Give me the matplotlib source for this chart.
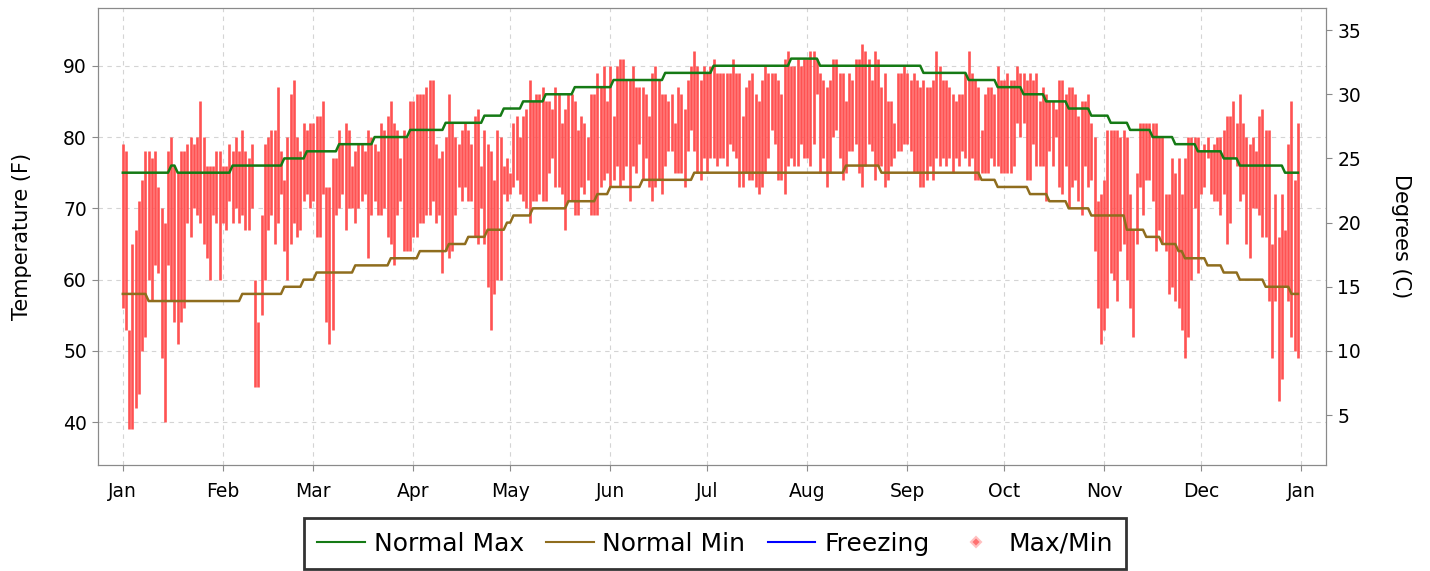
import numpy as np
import matplotlib
matplotlib.use("Agg")
import matplotlib.pyplot as plt
from matplotlib.lines import Line2D

jan_hi = [79, 78, 53, 65, 67, 71, 74, 78, 78, 77, 78, 73, 70, 68, 78, 80, 76, 75, 78, 78, 79, 80, 79, 80, 85, 80, 76, 76, 76, 78, 78]
jan_lo = [56, 53, 39, 39, 42, 44, 50, 52, 60, 57, 62, 61, 49, 40, 62, 57, 54, 51, 54, 56, 68, 66, 70, 69, 68, 65, 63, 60, 69, 68, 60]
feb_hi = [76, 76, 79, 78, 80, 78, 81, 78, 77, 79, 60, 54, 69, 79, 80, 81, 81, 87, 78, 74, 80, 86, 88, 80, 78, 82, 81, 82]
feb_lo = [68, 67, 71, 68, 70, 68, 69, 67, 67, 70, 45, 45, 55, 60, 67, 69, 65, 68, 72, 64, 60, 65, 68, 66, 67, 71, 72, 70]
mar_hi = [82, 83, 83, 85, 73, 73, 77, 77, 81, 79, 82, 81, 76, 78, 79, 79, 78, 81, 80, 79, 78, 82, 81, 83, 85, 82, 81, 77, 81, 80, 85]
mar_lo = [71, 66, 66, 72, 54, 51, 53, 69, 70, 72, 67, 70, 70, 68, 70, 71, 72, 63, 69, 71, 69, 69, 70, 66, 65, 62, 69, 71, 64, 64, 64]
apr_hi = [85, 86, 86, 86, 87, 88, 88, 79, 77, 78, 80, 86, 82, 80, 79, 81, 82, 81, 79, 83, 84, 76, 81, 79, 78, 74, 81, 80, 76, 77]
apr_lo = [66, 66, 68, 68, 69, 69, 71, 68, 69, 61, 64, 63, 64, 69, 73, 71, 73, 71, 71, 66, 65, 70, 65, 59, 53, 58, 60, 60, 72, 71]
may_hi = [75, 82, 83, 80, 83, 84, 88, 85, 86, 86, 87, 85, 85, 84, 87, 86, 82, 84, 86, 86, 85, 81, 83, 82, 80, 86, 86, 89, 87, 90, 85]
may_lo = [72, 73, 74, 72, 71, 70, 68, 71, 71, 72, 71, 71, 75, 77, 73, 73, 72, 67, 71, 71, 69, 69, 73, 72, 74, 69, 69, 69, 73, 74, 75]
jun_hi = [90, 83, 90, 91, 91, 88, 88, 90, 87, 87, 87, 86, 83, 89, 90, 88, 86, 86, 85, 86, 82, 87, 86, 84, 88, 90, 92, 90, 88, 90]
jun_lo = [73, 74, 76, 73, 74, 76, 71, 76, 75, 79, 74, 77, 73, 71, 73, 74, 72, 76, 78, 78, 75, 75, 75, 73, 78, 81, 78, 75, 74, 77]
jul_hi = [89, 90, 91, 89, 89, 89, 89, 89, 91, 89, 89, 83, 87, 88, 89, 86, 85, 88, 90, 89, 89, 89, 88, 86, 91, 92, 90, 90, 91, 90, 91]
jul_lo = [75, 77, 77, 76, 77, 77, 76, 79, 78, 77, 73, 73, 75, 74, 74, 73, 72, 73, 75, 77, 81, 79, 74, 74, 72, 76, 77, 76, 76, 79, 77]
aug_hi = [91, 92, 92, 91, 89, 88, 87, 88, 91, 91, 89, 89, 85, 89, 88, 91, 91, 93, 92, 91, 88, 92, 91, 87, 89, 85, 85, 82, 89, 89, 90]
aug_lo = [77, 76, 79, 86, 75, 77, 73, 75, 80, 81, 77, 74, 75, 78, 78, 79, 75, 73, 76, 79, 78, 74, 76, 76, 73, 74, 76, 77, 78, 78, 79]
sep_hi = [89, 88, 89, 88, 87, 88, 87, 87, 88, 92, 90, 88, 88, 87, 86, 85, 86, 86, 89, 92, 89, 88, 87, 81, 86, 87, 87, 86, 90, 88]
sep_lo = [79, 78, 75, 75, 73, 73, 74, 76, 74, 77, 76, 77, 76, 77, 75, 77, 76, 78, 77, 76, 77, 74, 74, 75, 75, 75, 77, 76, 76, 75]
oct_hi = [88, 89, 88, 88, 90, 89, 89, 88, 89, 88, 89, 85, 87, 86, 85, 85, 84, 88, 88, 86, 87, 87, 86, 83, 85, 85, 86, 82, 80, 71, 72]
oct_lo = [75, 75, 75, 76, 82, 80, 82, 74, 74, 79, 76, 76, 76, 71, 78, 76, 80, 73, 72, 76, 70, 73, 74, 71, 69, 76, 73, 74, 64, 56, 51]
nov_hi = [74, 81, 81, 81, 81, 80, 81, 80, 72, 67, 75, 82, 82, 82, 82, 82, 82, 80, 80, 72, 72, 77, 75, 77, 72, 77, 80, 80, 80, 80]
nov_lo = [53, 56, 61, 60, 57, 64, 65, 60, 56, 52, 65, 73, 69, 74, 74, 71, 64, 67, 65, 64, 58, 59, 57, 56, 53, 49, 52, 60, 70, 61]
dec_hi = [78, 79, 80, 78, 79, 80, 80, 81, 83, 83, 85, 82, 86, 82, 80, 79, 80, 78, 83, 84, 81, 81, 65, 72, 66, 72, 67, 79, 85, 74, 82]
dec_lo = [72, 73, 77, 72, 71, 71, 69, 72, 65, 68, 77, 76, 71, 72, 65, 63, 70, 70, 69, 66, 66, 57, 49, 57, 43, 46, 59, 57, 52, 50, 49]

# normal max / min as step breakpoints (day of year, value F)
nmax_days = [0, 15, 17, 34, 50, 57, 67, 78, 89, 100, 112, 118, 124, 131, 140, 152, 168, 183, 207, 216, 248, 262, 271, 279, 286, 293, 300, 306, 312, 319, 326, 333, 341, 346, 360]
nmax_vals = [75, 76, 75, 76, 77, 78, 79, 80, 81, 82, 83, 84, 85, 86, 87, 88, 89, 90, 91, 90, 89, 88, 87, 86, 85, 84, 83, 82, 81, 80, 79, 78, 77, 76, 75]
nmin_days = [0, 8, 37, 50, 56, 60, 72, 83, 92, 101, 107, 113, 119, 121, 127, 138, 147, 151, 161, 177, 224, 235, 266, 271, 281, 287, 293, 300, 311, 317, 322, 327, 329, 336, 341, 346, 354, 362]
nmin_vals = [58, 57, 58, 59, 60, 61, 62, 63, 64, 65, 66, 67, 68, 69, 70, 71, 72, 73, 74, 75, 76, 75, 74, 73, 72, 71, 70, 69, 67, 66, 65, 64, 63, 62, 61, 60, 59, 58]

month_labels = ["Jan", "Feb", "Mar", "Apr", "May", "Jun", "Jul", "Aug", "Sep", "Oct", "Nov", "Dec", "Jan"]
month_starts = [0, 31, 59, 90, 120, 151, 181, 212, 243, 273, 304, 334, 365]

hi = np.array(jan_hi + feb_hi + mar_hi + apr_hi + may_hi + jun_hi + jul_hi + aug_hi + sep_hi + oct_hi + nov_hi + dec_hi)
lo = np.array(jan_lo + feb_lo + mar_lo + apr_lo + may_lo + jun_lo + jul_lo + aug_lo + sep_lo + oct_lo + nov_lo + dec_lo)
days = np.arange(len(hi))

nmax = np.repeat(nmax_vals, np.diff(nmax_days + [365]))
nmin = np.repeat(nmin_vals, np.diff(nmin_days + [365]))

RED = "#ff5252"
GREEN = "#157a15"
BROWN = "#8f6d1e"

fig = plt.figure(figsize=(14.3, 5.71), dpi=100)
ax = fig.add_axes([0.0685, 0.1856, 0.8588, 0.8004])

ax.vlines(days, lo, hi, colors=RED, linewidth=1.9, zorder=2)
ax.plot(days, nmax, color=GREEN, linewidth=1.8, zorder=3)
ax.plot(days, nmin, color=BROWN, linewidth=1.8, zorder=3)
ax.axhline(32, color="blue", linewidth=1.5)

ax.set_xlim(-7.7, 372.7)
ax.set_ylim(34.0, 98.1)
ax.set_xticks(month_starts)
ax.set_xticklabels(month_labels)
ax.set_yticks(range(40, 91, 10))
ax.set_ylabel("Temperature (F)", fontsize=15, labelpad=22)
ax.grid(True, color="#d4d4d4", linestyle=(0, (4, 4)), linewidth=0.8)
ax.set_axisbelow(True)

for s in ax.spines.values():
    s.set_color("#8a8a8a")

ax.tick_params(direction="out", length=4, color="#8a8a8a", labelsize=13.5, pad=4)
ax.tick_params(axis="x", pad=8)

# Celsius on the right
ax2 = ax.twinx()
lo_f, hi_f = ax.get_ylim()
ax2.set_ylim((lo_f - 32) * 5 / 9, (hi_f - 32) * 5 / 9)
ax2.set_yticks(range(5, 36, 5))
ax2.set_ylabel("Degrees (C)", fontsize=15, rotation=270, labelpad=36)
ax2.tick_params(direction="out", length=4, color="#8a8a8a", labelsize=13.5, pad=4)
for s in ax2.spines.values():
    s.set_color("#8a8a8a")

handles = [
    Line2D([], [], color=GREEN, linewidth=1.5),
    Line2D([], [], color=BROWN, linewidth=1.5),
    Line2D([], [], color="blue", linewidth=1.5),
    Line2D([], [], color="#ff7070", marker="D", markersize=5, linestyle="none",
           markeredgecolor="#ffc0c0", markeredgewidth=1.5),
]
leg = fig.legend(handles, ["Normal Max", "Normal Min", "Freezing", "Max/Min"],
                 loc="upper center", bbox_to_anchor=(0.5, 0.093), ncol=4,
                 fontsize=18, frameon=True, fancybox=False, handlelength=1.9,
                 handletextpad=0.35, columnspacing=0.9, borderpad=0.55,
                 borderaxespad=0)
leg.get_frame().set_edgecolor("black")
leg.get_frame().set_linewidth(2)

fig.savefig("out.png", dpi=100)
